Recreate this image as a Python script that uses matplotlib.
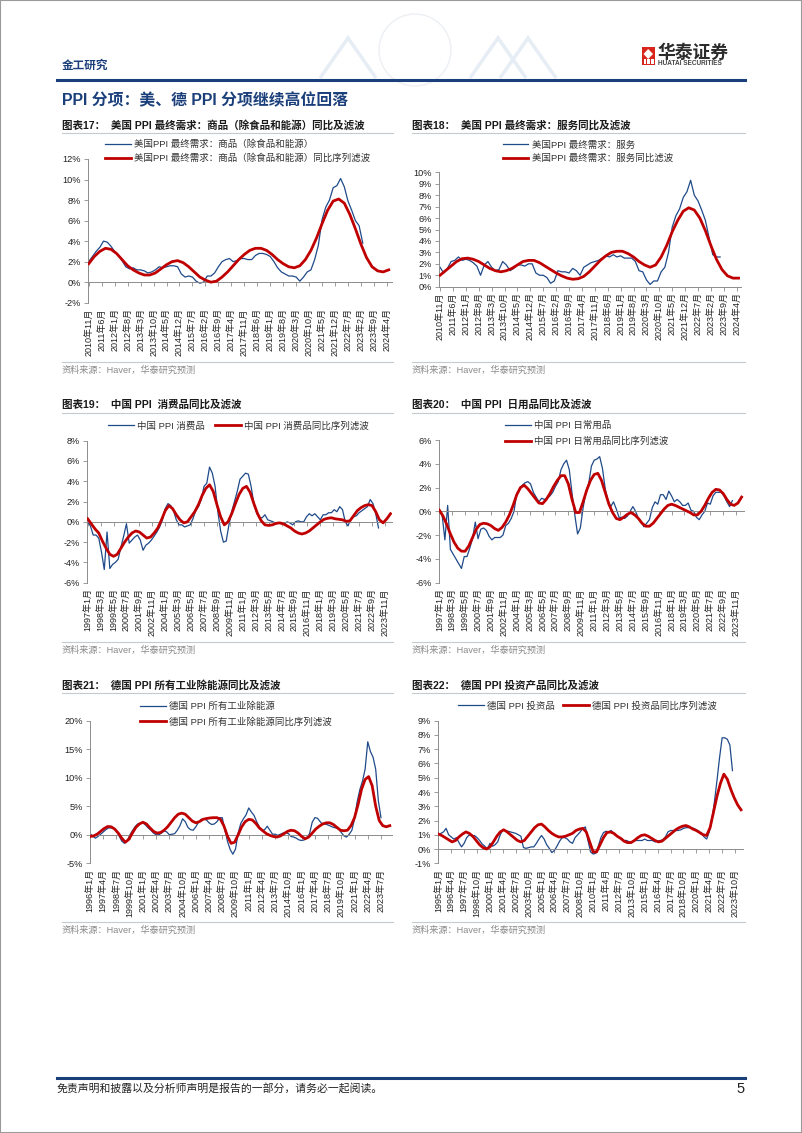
import numpy as np
import matplotlib.pyplot as plt
from matplotlib.lines import Line2D
from matplotlib.patches import Rectangle, Polygon, Ellipse

plt.rcParams['font.family'] = ['Liberation Sans', 'Noto Sans CJK SC']
plt.rcParams['axes.unicode_minus'] = False

W, H = 802, 1133
NAVY = '#1B3F7A'
BLUE = '#1F4A8A'
RED = '#C00000'
AXIS = '#8C8C8C'

# ---- data (YoY %) ----
# chart 17: US PPI final demand goods ex food & energy, start 2010-11
c17_origin = (2010, 11)
c17_blue_step = 2
c17_blue = [2.0, 2.5, 3.0, 3.4, 4.0, 3.9, 3.5, 3.0, 2.6, 2.1,
            1.5, 1.3, 1.4, 1.2, 1.2, 1.1, 0.9, 1.0, 1.2, 1.5,
            1.4, 1.5, 1.6, 1.6, 1.5, 0.8, 0.5, 0.6, 0.5, 0.1,
            -0.1, 0.0, 0.6, 0.6, 0.9, 1.5, 2.0, 2.2, 2.3, 2.0,
            2.1, 2.3, 2.3, 2.2, 2.2, 2.6, 2.8, 2.8, 2.7, 2.5,
            2.0, 1.4, 1.0, 0.8, 0.6, 0.6, 0.5, 0.1, 0.5, 1.0,
            1.2, 2.2, 3.6, 6.1, 7.3, 8.0, 9.2, 9.4, 10.1, 9.3,
            7.9, 7.0, 6.0, 5.5, 3.8]
c17_red_step = 3
c17_red = [1.8, 2.5, 3.0, 3.3, 3.2, 2.8, 2.2, 1.6, 1.2, 0.9,
           0.7, 0.7, 0.9, 1.3, 1.7, 2.0, 2.1, 1.9, 1.5, 1.0,
           0.5, 0.2, 0.0, 0.1, 0.5, 1.0, 1.6, 2.2, 2.7, 3.1,
           3.3, 3.3, 3.1, 2.7, 2.2, 1.8, 1.5, 1.4, 1.6, 2.2,
           3.1, 4.3, 5.7, 7.0, 7.9, 8.1, 7.7, 6.6, 5.2, 3.7,
           2.4, 1.5, 1.1, 1.0, 1.2]
c17_ticks = ['2010年11月', '2011年6月', '2012年1月', '2012年8月', '2013年3月', '2013年10月',
             '2014年5月', '2014年12月', '2015年7月', '2016年2月', '2016年9月', '2017年4月',
             '2017年11月', '2018年6月', '2019年1月', '2019年8月', '2020年3月', '2020年10月',
             '2021年5月', '2021年12月', '2022年7月', '2023年2月', '2023年9月', '2024年4月']
c17_names = ['美国PPI 最终需求：商品（除食品和能源）', '美国PPI 最终需求：商品（除食品和能源）同比序列滤波']

# chart 18: US PPI final demand services, start 2010-11
c18_origin = (2010, 11)
c18_blue_step = 2
c18_blue = [1.7, 1.2, 1.6, 2.2, 2.3, 2.6, 2.3, 2.4, 2.3, 2.1,
            1.8, 1.0, 1.9, 2.2, 1.7, 1.4, 1.5, 2.2, 1.9, 1.4,
            1.6, 1.9, 1.9, 1.8, 2.0, 2.0, 1.2, 1.0, 1.0, 0.8,
            0.3, 0.5, 1.4, 1.3, 1.3, 1.2, 1.6, 1.4, 1.0, 1.7,
            1.9, 2.1, 2.2, 2.3, 2.5, 2.7, 2.6, 2.8, 2.6, 2.7,
            2.5, 2.5, 2.5, 2.2, 1.4, 1.3, 0.6, 0.2, 0.5, 0.5,
            1.3, 1.7, 3.0, 5.2, 6.2, 6.8, 7.8, 8.3, 9.3, 8.0,
            7.5, 6.7, 5.8, 4.3, 2.8, 2.6, 2.6]
c18_red_step = 3
c18_red = [1.0, 1.4, 1.8, 2.2, 2.45, 2.5, 2.4, 2.2, 1.9, 1.6,
           1.4, 1.3, 1.4, 1.6, 1.9, 2.2, 2.3, 2.3, 2.1, 1.8,
           1.5, 1.2, 0.95, 0.75, 0.65, 0.7, 0.9, 1.3, 1.8, 2.3,
           2.7, 3.0, 3.1, 3.1, 2.9, 2.6, 2.2, 1.9, 1.7, 1.9,
           2.6, 3.6, 4.8, 5.8, 6.6, 6.9, 6.7, 6.0, 4.9, 3.6,
           2.4, 1.5, 0.95, 0.75, 0.75]
c18_ticks = c17_ticks
c18_names = ['美国PPI 最终需求：服务', '美国PPI 最终需求：服务同比滤波']

# chart 19: China PPI consumer goods, start 1997-1
c19_origin = (1997, 1)
c19_blue_step = 3
c19_blue = [0.0, -0.4, -1.3, -1.3, -1.6, -3.0, -4.7, -1.0, -4.6, -4.2,
            -4.0, -3.7, -2.5, -1.4, -0.2, -2.1, -1.8, -1.5, -1.3, -1.8,
            -2.8, -2.3, -2.1, -1.8, -1.4, -1.0, -0.5, 0.2, 1.3, 1.8,
            1.6, 1.1, 0.2, -0.3, -0.3, -0.5, -0.4, -0.3, 0.3, 1.1,
            1.5, 2.2, 3.5, 3.8, 5.4, 4.8, 3.5, 1.0, -0.9, -2.0,
            -1.9, -0.3, 1.0, 2.0, 3.0, 4.2, 4.5, 4.8, 4.7, 3.5,
            1.8, 0.9, 0.4, 0.4, 0.7, 0.2, 0.1, 0.0, -0.2, -0.1,
            -0.2, -0.2, 0.0, -0.1, -0.3, 0.0, 0.1, 0.0, 0.0, 0.5,
            0.8, 0.6, 0.8, 0.5, 0.2, 0.7, 0.7, 0.9, 0.9, 1.2,
            1.0, 1.5, 1.2, 0.0, -0.4, 0.3, 0.5, 0.6, 0.9, 1.1,
            1.3, 1.5, 2.2, 1.8, 0.8, -0.6]
c19_red_step = 4
c19_red = [0.3, -0.2, -0.7, -1.1, -1.9, -2.6, -3.2, -3.4, -3.2, -2.6,
           -2.0, -1.5, -1.1, -0.9, -1.0, -1.3, -1.6, -1.5, -1.1, -0.6,
           0.2, 1.1, 1.6, 1.3, 0.7, 0.2, -0.1, 0.0, 0.5, 1.0,
           1.7, 2.6, 3.3, 3.65, 3.0, 1.7, 0.5, -0.3, 0.0, 0.8,
           1.8, 2.7, 3.3, 3.5, 2.9, 1.8, 0.8, 0.1, -0.3, -0.35,
           -0.3, -0.15, -0.1, -0.2, -0.4, -0.6, -0.9, -1.1, -1.2, -1.1,
           -0.9, -0.6, -0.3, 0.0, 0.25, 0.35, 0.4, 0.3, 0.25, 0.2,
           0.05, 0.1, 0.6, 1.1, 1.4, 1.6, 1.7, 1.6, 1.0, 0.2,
           -0.1, 0.3, 0.8]
c19_ticks = ['1997年1月', '1998年3月', '1999年5月', '2000年7月', '2001年9月', '2002年11月',
             '2004年1月', '2005年3月', '2006年5月', '2007年7月', '2008年9月', '2009年11月',
             '2011年1月', '2012年3月', '2013年5月', '2014年7月', '2015年9月', '2016年11月',
             '2018年1月', '2019年3月', '2020年5月', '2021年7月', '2022年9月', '2023年11月']
c19_names = ['中国 PPI 消费品', '中国 PPI 消费品同比序列滤波']

# chart 20: China PPI daily-use goods, start 1997-1
c20_origin = (1997, 1)
c20_blue_step = 3
c20_blue = [0.0, -0.3, -2.4, 0.5, -3.2, -3.6, -4.0, -4.4, -4.8, -3.8,
            -3.8, -3.1, -2.3, -0.9, -2.3, -1.5, -1.4, -1.6, -2.1, -2.4,
            -2.2, -2.2, -2.2, -2.0, -1.2, -1.0, -0.6, 0.0, 1.5, 1.8,
            2.2, 2.4, 2.5, 2.3, 1.6, 1.2, 0.8, 1.1, 1.0, 1.1,
            1.3, 1.6, 2.1, 2.5, 3.5, 4.0, 4.3, 3.5, 1.5, -0.3,
            -1.9, -1.4, 0.3, 1.6, 2.3, 3.8, 4.3, 4.4, 4.6, 3.6,
            1.9, 0.9, 0.4, 0.8, 0.2, -0.5, -0.5, -0.6, -0.4, 0.0,
            0.4, 0.0, -0.6, -0.9, -1.3, -1.0, -0.7, 0.3, 0.8, 0.6,
            1.4, 1.4, 1.0, 1.7, 1.3, 0.8, 1.0, 0.8, 0.5, 0.5,
            0.7, 0.1, 0.0, -0.5, -0.7, -0.3, 0.0, 0.7, 0.6, 1.3,
            1.6, 1.6, 1.6, 1.3, 0.8, 0.4, 0.9]
c20_red_step = 4
c20_red = [0.1, -0.4, -1.1, -1.9, -2.6, -3.1, -3.35, -3.35, -2.9, -2.2,
           -1.5, -1.1, -1.0, -1.05, -1.2, -1.45, -1.6, -1.35, -0.9, -0.3,
           0.5, 1.4, 2.0, 2.2, 1.9, 1.5, 1.1, 0.7, 0.65, 1.0,
           1.5, 2.1, 2.6, 3.0, 3.0, 2.3, 1.0, -0.1, -0.1, 0.8,
           1.8, 2.6, 3.1, 3.2, 2.6, 1.6, 0.6, -0.1, -0.6, -0.7,
           -0.5, -0.25, -0.1, -0.3, -0.6, -1.0, -1.25, -1.25, -1.0, -0.6,
           -0.2, 0.2, 0.5, 0.6, 0.5, 0.35, 0.2, 0.05, -0.1, -0.3,
           -0.3, 0.0, 0.5, 1.1, 1.6, 1.85, 1.8, 1.5, 1.0, 0.6,
           0.5, 0.7, 1.2]
c20_ticks = c19_ticks
c20_names = ['中国 PPI 日常用品', '中国 PPI 日常用品同比序列滤波']

# chart 21: Germany PPI all industry ex energy, start 1996-1
c21_origin = (1996, 1)
c21_blue_step = 3
c21_blue = [0.2, -0.2, -0.6, -0.3, 0.1, 0.5, 0.9, 1.2, 1.2, 1.1,
            0.6, -0.2, -1.1, -1.5, -1.1, -0.1, 0.7, 1.4, 1.9, 2.0,
            2.1, 1.7, 1.2, 0.8, 0.3, 0.0, 0.0, 0.3, 0.7, 0.5,
            0.0, 0.1, 0.2, 0.8, 1.6, 2.8, 2.3, 1.3, 0.9, 0.8,
            1.4, 2.2, 2.7, 2.8, 2.6, 2.1, 1.8, 1.9, 2.3, 3.0,
            3.0, 0.8, -1.2, -2.6, -3.4, -2.5, 0.3, 2.0, 2.8, 3.5,
            4.7, 4.0, 3.4, 2.3, 1.4, 0.7, 0.9, 1.5, 0.8, 0.1,
            0.1, -0.1, 0.1, 0.3, 0.4, 0.2, -0.3, -0.4, -0.6, -0.9,
            -1.0, -0.9, -0.5, 0.2, 2.2, 3.0, 2.9, 2.3, 1.8, 1.9,
            1.7, 1.5, 1.3, 1.2, 1.0, 0.4, -0.2, -0.4, 0.1, 0.8,
            2.8, 5.8, 7.9, 9.4, 11.5, 16.3, 14.6, 13.6, 11.5, 6.0,
            3.0]
c21_red_step = 4
c21_red = [-0.3, -0.2, 0.1, 0.6, 1.1, 1.45, 1.4, 1.0, 0.3, -0.6,
           -1.3, -0.8, 0.3, 1.3, 1.9, 2.2, 1.9, 1.2, 0.6, 0.3,
           0.4, 0.8, 1.4, 2.2, 3.0, 3.6, 3.8, 3.6, 3.0, 2.4,
           2.1, 2.3, 2.7, 2.85, 2.95, 3.0, 3.0, 2.7, 1.5, -0.3,
           -1.5, -1.3, 0.0, 1.4, 2.3, 2.7, 2.6, 2.0, 1.2, 0.7,
           0.2, -0.1, -0.3, -0.4, -0.2, 0.2, 0.6, 0.8, 0.7, 0.3,
           -0.3, -0.7, -0.4, 0.3, 1.0, 1.5, 1.9, 2.1, 2.1, 1.8,
           1.3, 0.8, 0.7, 0.8, 1.6, 3.0, 5.3, 8.0, 9.7, 10.2,
           8.6, 5.0, 2.5, 1.6, 1.4, 1.6]
c21_ticks = ['1996年1月', '1997年4月', '1998年7月', '1999年10月', '2001年1月', '2002年4月',
             '2003年7月', '2004年10月', '2006年1月', '2007年4月', '2008年7月', '2009年10月',
             '2011年1月', '2012年4月', '2013年7月', '2014年10月', '2016年1月', '2017年4月',
             '2018年7月', '2019年10月', '2021年1月', '2022年4月', '2023年7月']
c21_names = ['德国 PPI 所有工业除能源', '德国 PPI 所有工业除能源同比序列滤波']

# chart 22: Germany PPI capital goods, start 1995-1
c22_origin = (1995, 1)
c22_blue_step = 3
c22_blue = [1.0, 1.1, 1.2, 1.45, 1.0, 0.85, 0.7, 0.8, 0.45, 0.15,
            0.4, 0.8, 1.0, 0.9, 0.95, 0.8, 0.6, 0.35, 0.2, 0.0,
            0.4, 0.2, 0.3, 0.5, 1.0, 1.35, 1.3, 1.25, 1.2, 1.15,
            1.1, 1.0, 0.9, 0.1, 0.05, 0.1, 0.15, 0.15, 0.4, 0.7,
            0.95, 0.7, 0.3, 0.05, -0.25, -0.1, 0.2, 0.55, 0.8, 0.8,
            0.7, 0.5, 0.4, 0.8, 1.0, 1.2, 1.45, 1.55, 0.6, -0.2,
            -0.35, -0.3, 0.2, 0.8, 1.15, 1.25, 1.2, 1.3, 1.1, 0.95,
            0.8, 0.75, 0.6, 0.6, 0.5, 0.5, 0.6, 0.6, 0.6, 0.6,
            0.7, 0.6, 0.6, 0.6, 0.5, 0.55, 0.6, 0.65, 0.85, 1.2,
            1.3, 1.3, 1.3, 1.3, 1.35, 1.45, 1.5, 1.5, 1.5, 1.45,
            1.35, 1.25, 1.1, 0.85, 0.7, 1.2, 2.0, 3.3, 4.8, 6.4,
            7.8, 7.8, 7.7, 7.3, 5.5]
c22_red_step = 4
c22_red = [1.05, 0.95, 0.8, 0.65, 0.5, 0.6, 0.85, 1.05, 1.2, 1.1,
           0.9, 0.6, 0.3, 0.1, 0.0, 0.15, 0.5, 0.9, 1.2, 1.35,
           1.2, 1.0, 0.8, 0.6, 0.5, 0.6, 0.9, 1.2, 1.5, 1.7,
           1.75, 1.55, 1.3, 1.1, 0.95, 0.85, 0.85, 0.9, 1.0, 1.1,
           1.3, 1.4, 1.45, 1.2, 0.5, -0.2, -0.2, 0.3, 0.8, 1.15,
           1.2, 1.1, 0.9, 0.75, 0.55, 0.45, 0.45, 0.6, 0.8, 0.95,
           1.0, 0.9, 0.75, 0.6, 0.5, 0.55, 0.75, 0.95, 1.15, 1.35,
           1.5, 1.6, 1.65, 1.55, 1.4, 1.3, 1.15, 1.0, 0.95, 1.5,
           2.6, 3.7, 4.6, 5.25, 4.9, 4.2, 3.6, 3.1, 2.75]
c22_ticks = ['1995年1月', '1996年4月', '1997年7月', '1998年10月', '2000年1月', '2001年4月',
             '2002年7月', '2003年10月', '2005年1月', '2006年4月', '2007年7月', '2008年10月',
             '2010年1月', '2011年4月', '2012年7月', '2013年10月', '2015年1月', '2016年4月',
             '2017年7月', '2018年10月', '2020年1月', '2021年4月', '2022年7月', '2023年10月']
c22_names = ['德国 PPI 投资品', '德国 PPI 投资品同比序列滤波']


def fx(x):
    return x / W


def fy(y):
    return 1 - y / H


def month_pos(label, origin):
    year, month = int(label[:4]), int(label[5:-1])
    return (year - origin[0]) * 12 + month - origin[1]


def hline(x0, x1, y, color, lw):
    fig.add_artist(Line2D([fx(x0), fx(x1)], [fy(y), fy(y)], transform=fig.transFigure,
                          color=color, lw=lw))


def draw_chart(box, xmax, ylim, ystep, origin, blue, bstep, red, rstep, ticks, names,
               leg_x, leg_y, ncol=1, colsp=1.0, rowsp=0.5):
    l, t, r, b = box
    ax = fig.add_axes([fx(l), fy(b), fx(r) - fx(l), fy(t) - fy(b)])
    ax.plot(np.arange(len(blue)) * bstep, blue, color=BLUE, lw=0.9, label=names[0], zorder=2)
    ax.plot(np.arange(len(red)) * rstep, red, color=RED, lw=2.0, label=names[1], zorder=3)
    ax.set_xlim(-0.5, xmax)
    ax.set_ylim(*ylim)
    ax.set_yticks(np.arange(ylim[0], ylim[1] + ystep / 2, ystep))
    ax.yaxis.set_major_formatter(lambda v, p: f'{v:.0f}%')
    ax.tick_params(axis='y', length=3, width=0.6, color=AXIS, labelsize=6.6, pad=2,
                   labelcolor='#222222')
    pos = [month_pos(s, origin) for s in ticks]
    ax.set_xticks(pos)
    ax.tick_params(axis='x', length=3, width=0.6, color=AXIS, labelbottom=False)
    ax.spines['bottom'].set_position(('data', 0))
    for s in ('top', 'right'):
        ax.spines[s].set_visible(False)
    for s in ('left', 'bottom'):
        ax.spines[s].set_color(AXIS)
        ax.spines[s].set_linewidth(0.7)
    sec = ax.secondary_xaxis('bottom')
    sec.set_xticks(pos, labels=ticks)
    sec.tick_params(length=0, pad=4, labelsize=6.5, labelrotation=90, labelcolor='#222222')
    sec.spines['bottom'].set_visible(False)
    ax.legend(loc='center left', bbox_to_anchor=(fx(leg_x), fy(leg_y)),
              bbox_transform=fig.transFigure, ncol=ncol, frameon=False, fontsize=6.8,
              handlelength=2.7, handletextpad=0.35, borderpad=0, borderaxespad=0,
              labelspacing=rowsp, columnspacing=colsp, labelcolor='#333333')
    return ax


fig = plt.figure(figsize=(W / 100, H / 100), dpi=100)

# page frame
fig.add_artist(Rectangle((0, 0), 1, 1, transform=fig.transFigure, fill=False,
                         edgecolor='#9A9A9A', lw=1.5))

# header watermark (faint)
fig.add_artist(Ellipse((fx(415), fy(50)), 72 / W, 72 / H, transform=fig.transFigure,
                       fill=False, edgecolor='#ECEFF3', lw=1.0))
for x0 in (320, 470, 500):
    fig.add_artist(Polygon([(fx(x0), fy(78)), (fx(x0 + 28), fy(38)), (fx(x0 + 56), fy(78))],
                           closed=False, fill=False, transform=fig.transFigure,
                           edgecolor='#E6EDF5', lw=2.5))

# header
fig.text(fx(62), fy(66), '金工研究', fontsize=8.4, color=NAVY, fontweight='bold', va='center')
hline(57, 745, 79.5, NAVY, 2.2)
fig.add_artist(Rectangle((fx(641.5), fy(65)), 13.5 / W, 18 / H, transform=fig.transFigure,
                         facecolor='#D9261C', edgecolor='none'))
fig.add_artist(Polygon([(fx(648.2), fy(49)), (fx(653), fy(54)), (fx(648.2), fy(59)),
                        (fx(643.5), fy(54))], transform=fig.transFigure,
                       facecolor='white', edgecolor='none'))
for bx in (643.5, 647.4, 651.3):
    fig.add_artist(Rectangle((fx(bx), fy(64)), 2.2 / W, 5 / H, transform=fig.transFigure,
                             facecolor='white', edgecolor='none'))
fig.text(fx(657), fy(53), '华泰证券', fontsize=12.8, fontweight='bold', color='#2B2B2B',
         va='center')
fig.text(fx(657.5), fy(63.5), 'HUATAI SECURITIES', fontsize=4.7, fontweight='bold',
         color='#444444', va='center')

fig.text(fx(62), fy(100), 'PPI 分项：美、德 PPI 分项继续高位回落', fontsize=11.4,
         fontweight='bold', color=NAVY, va='center')

# chart titles, rules, sources
titles = [('图表17：  美国 PPI 最终需求：商品（除食品和能源）同比及滤波', 62, 125),
          ('图表18：  美国 PPI 最终需求：服务同比及滤波', 412, 125),
          ('图表19：  中国 PPI  消费品同比及滤波', 62, 405),
          ('图表20：  中国 PPI  日用品同比及滤波', 412, 405),
          ('图表21：  德国 PPI 所有工业除能源同比及滤波', 62, 685),
          ('图表22：  德国 PPI 投资产品同比及滤波', 412, 685)]
for text, x, y in titles:
    fig.text(fx(x), fy(y), text, fontsize=7.6, fontweight='bold', color='#1A1A1A', va='center')
    x1 = 393 if x < 400 else 745
    hline(x, x1, y + 7.7, '#C3CAD2', 0.8)
    hline(x, x1, y + 237, '#C3CAD2', 0.8)
    fig.text(fx(x), fy(y + 245), '资料来源：Haver，华泰研究预测', fontsize=6.6,
             color='#8A8A8A', va='center')

draw_chart((87.8, 159, 391.5, 302.7), 163.5, (-2, 12), 2, c17_origin,
           c17_blue, c17_blue_step, c17_red, c17_red_step, c17_ticks, c17_names,
           105, 151.5, rowsp=0.45)
draw_chart((439.1, 172.3, 741.3, 286.7), 163.5, (0, 10), 1, c18_origin,
           c18_blue, c18_blue_step, c18_red, c18_red_step, c18_ticks, c18_names,
           502.7, 151.8, rowsp=0.45)
draw_chart((87.2, 440.7, 391.9, 582.7), 329.5, (-6, 8), 2, c19_origin,
           c19_blue, c19_blue_step, c19_red, c19_red_step, c19_ticks, c19_names,
           108.3, 426, ncol=2, colsp=1.1)
draw_chart((438.9, 440, 743.9, 582.7), 330.5, (-6, 6), 2, c20_origin,
           c20_blue, c20_blue_step, c20_red, c20_red_step, c20_ticks, c20_names,
           505, 433.6, rowsp=0.7)
draw_chart((89.6, 720.7, 392, 863.3), 342.5, (-5, 20), 5, c21_origin,
           c21_blue, c21_blue_step, c21_red, c21_red_step, c21_ticks, c21_names,
           140, 714.2, rowsp=0.6)
draw_chart((437.9, 720.7, 743.2, 863.3), 354.5, (-1, 9), 1, c22_origin,
           c22_blue, c22_blue_step, c22_red, c22_red_step, c22_ticks, c22_names,
           458.3, 706, ncol=2, colsp=0.9)

# footer
hline(57, 745, 1077.5, NAVY, 2.2)
fig.text(fx(57), fy(1089), '免责声明和披露以及分析师声明是报告的一部分，请务必一起阅读。',
         fontsize=7.8, color='#222222', va='center')
fig.text(fx(745), fy(1089), '5', fontsize=10.5, color='#222222', va='center', ha='right')

fig.savefig('out.png', dpi=100)
